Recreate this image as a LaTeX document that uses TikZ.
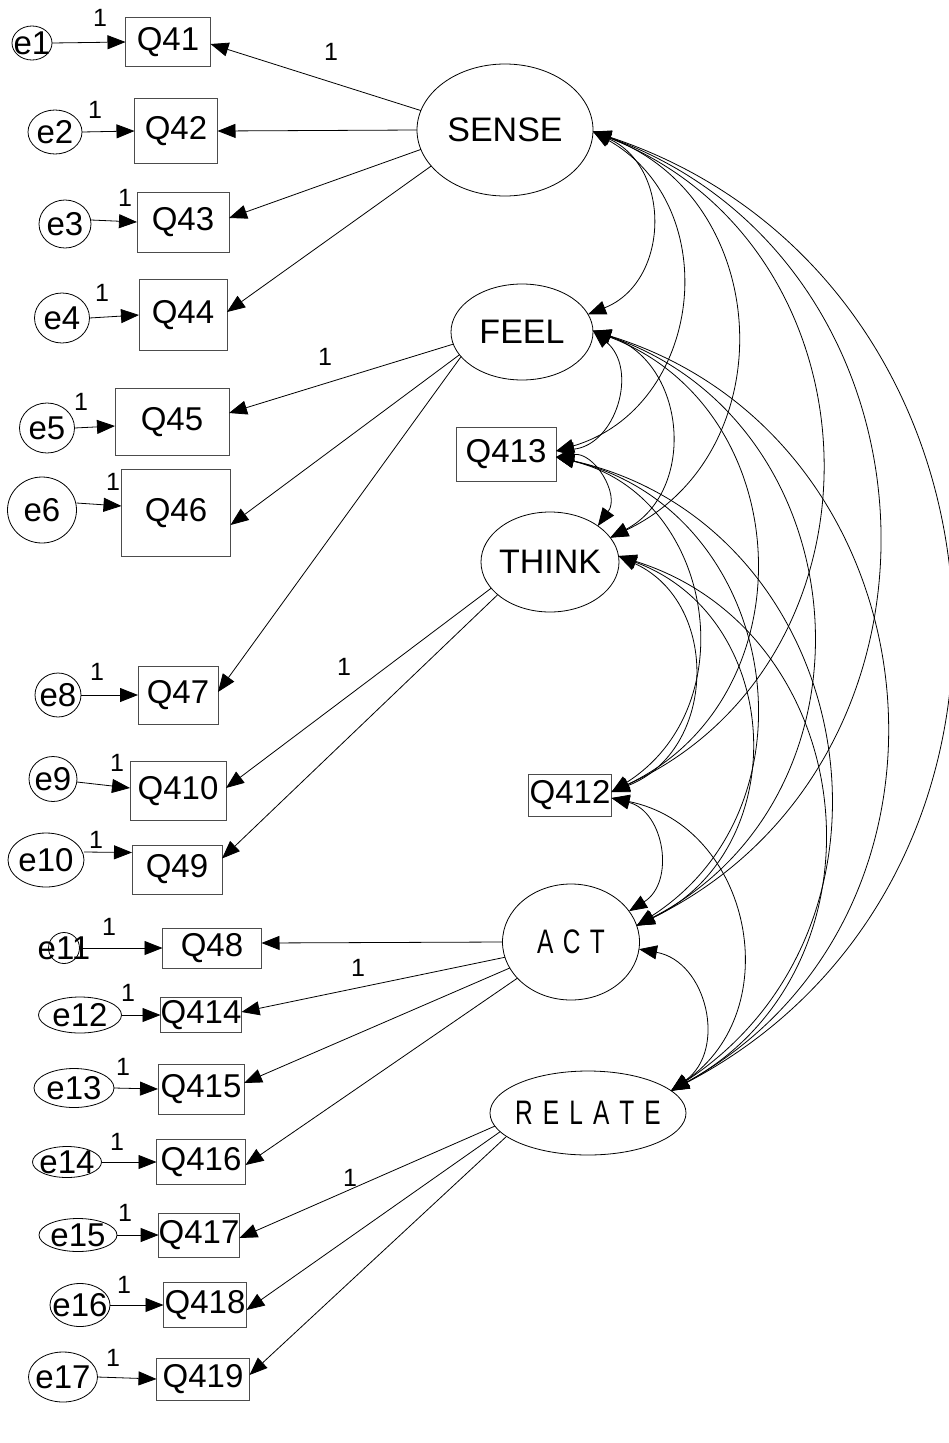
\documentclass[tikz,border=0pt]{standalone}
\usepackage{fontspec}
\setmainfont{Liberation Sans}
\usepackage{graphicx}
\usetikzlibrary{arrows.meta,shapes.geometric}

\newcommand{\mainsize}{\fontsize{33pt}{36pt}\selectfont}
\newcommand{\latsize}{\fontsize{34pt}{36pt}\selectfont}
\newcommand{\onesize}{\fontsize{25pt}{28pt}\selectfont}

\begin{document}
\begin{tikzpicture}[x=1pt,y=-1pt,
  every node/.style={inner sep=0pt,outer sep=0pt},
  obs/.style={draw=black!70,line width=0.8pt,rectangle,font=\mainsize},
  lat/.style={draw,line width=0.8pt,ellipse},
  err/.style={draw,line width=0.8pt,ellipse},
  lbltext/.style={font=\mainsize},
  lattext/.style={font=\latsize},
  fixlbl/.style={font=\onesize},
  tip/.tip={Triangle[length=18pt,width=14pt]},
  load/.style={-tip,line width=0.8pt},
  covarc/.style={tip-tip,line width=0.8pt,bend left=67,looseness=1.22}]

\useasboundingbox (0,0) rectangle (948,1443);

% latent factors
\node[lat,minimum width=176pt,minimum height=132pt,label={[lattext]center:SENSE}] (SENSE) at (505,130) {};
\node[lat,minimum width=142pt,minimum height=96pt,label={[lattext]center:FEEL}] (FEEL) at (522,332) {};
\node[lat,minimum width=138pt,minimum height=100pt,label={[lattext]center:THINK}] (THINK) at (550,562) {};
\node[lat,minimum width=137pt,minimum height=116pt,label={[lattext]center:{\scalebox{0.72}[1]{A\hspace{13pt}C\hspace{13pt}T}}}] (ACT) at (571,942) {};
\node[lat,minimum width=196pt,minimum height=84pt,label={[lattext]center:{\scalebox{0.72}[1]{R\hspace{14pt}E\hspace{14pt}L\hspace{14pt}A\hspace{14pt}T\hspace{14pt}E}}}] (RELATE) at (588,1113) {};

% single indicators on the right
\node[obs,minimum width=100pt,minimum height=54pt] (Q413) at (506,454) {Q413};
\node[obs,minimum width=83pt,minimum height=42pt] (Q412) at (570,795) {Q412};

% indicators on the left
\node[obs,minimum width=85pt,minimum height=49pt] (Q41) at (168,42) {Q41};
\node[obs,minimum width=83pt,minimum height=65pt] (Q42) at (176,131) {Q42};
\node[obs,minimum width=92pt,minimum height=60pt] (Q43) at (183,222) {Q43};
\node[obs,minimum width=88pt,minimum height=71pt] (Q44) at (183,315) {Q44};
\node[obs,minimum width=114pt,minimum height=67pt] (Q45) at (172,422) {Q45};
\node[obs,minimum width=109pt,minimum height=87pt] (Q46) at (176,513) {Q46};
\node[obs,minimum width=80pt,minimum height=58pt] (Q47) at (178,695) {Q47};
\node[obs,minimum width=96pt,minimum height=59pt] (Q410) at (178,791) {Q410};
\node[obs,minimum width=90pt,minimum height=49pt] (Q49) at (177,869.5) {Q49};
\node[obs,minimum width=99pt,minimum height=40pt] (Q48) at (212,948) {Q48};
\node[obs,minimum width=81pt,minimum height=35pt] (Q414) at (201,1015) {Q414};
\node[obs,minimum width=86pt,minimum height=50pt] (Q415) at (201,1089) {Q415};
\node[obs,minimum width=89pt,minimum height=45pt] (Q416) at (201,1162) {Q416};
\node[obs,minimum width=80pt,minimum height=44pt] (Q417) at (199,1235) {Q417};
\node[obs,minimum width=83pt,minimum height=45pt] (Q418) at (205,1305) {Q418};
\node[obs,minimum width=93pt,minimum height=42pt] (Q419) at (203,1379) {Q419};

% error terms
\node[err,minimum width=40pt,minimum height=34pt,label={[lbltext]center:e1}] (e1) at (32,43) {};
\node[err,minimum width=54pt,minimum height=44pt,label={[lbltext]center:e2}] (e2) at (55,132) {};
\node[err,minimum width=52pt,minimum height=48pt,label={[lbltext]center:e3}] (e3) at (65,224) {};
\node[err,minimum width=55pt,minimum height=50pt,label={[lbltext]center:e4}] (e4) at (62,318) {};
\node[err,minimum width=55pt,minimum height=50pt,label={[lbltext]center:e5}] (e5) at (47,428) {};
\node[err,minimum width=69pt,minimum height=66pt,label={[lbltext]center:e6}] (e6) at (42,510) {};
\node[err,minimum width=46pt,minimum height=44pt,label={[lbltext]center:e8}] (e8) at (58,695) {};
\node[err,minimum width=48pt,minimum height=45pt,label={[lbltext]center:e9}] (e9) at (53,779) {};
\node[err,minimum width=76pt,minimum height=54pt,label={[lbltext]center:e10}] (e10) at (46,860) {};
\node[err,minimum width=31pt,minimum height=31pt,label={[lbltext]center:e11}] (e11) at (64,948) {};
\node[err,minimum width=83pt,minimum height=36pt,label={[lbltext]center:e12}] (e12) at (80,1015) {};
\node[err,minimum width=80pt,minimum height=39pt,label={[lbltext]center:e13}] (e13) at (74,1088) {};
\node[err,minimum width=69pt,minimum height=31pt,label={[lbltext]center:e14}] (e14) at (67,1162) {};
\node[err,minimum width=78pt,minimum height=33pt,label={[lbltext]center:e15}] (e15) at (78,1235) {};
\node[err,minimum width=60pt,minimum height=43pt,label={[lbltext]center:e16}] (e16) at (80,1305) {};
\node[err,minimum width=69pt,minimum height=50pt,label={[lbltext]center:e17}] (e17) at (63,1377) {};

% error paths
\draw[load] (e1.east) -- (Q41.west);
\draw[load] (e2.east) -- (Q42.west);
\draw[load] ([yshift=4pt]e3.east) -- (Q43.west);
\draw[load] (e4.east) -- (Q44.west);
\draw[load] (e5.east) -- ([yshift=-4pt]Q45.west);
\draw[load] ([yshift=7pt]e6.east) -- ([yshift=7pt]Q46.west);
\draw[load] (e8.east) -- (Q47.west);
\draw[load] ([yshift=-3pt]e9.east) -- ([yshift=3pt]Q410.west);
\draw[load] ([yshift=8pt]e10.east) -- ([yshift=17pt]Q49.west);
\draw[load] (e11.east) -- (Q48.west);
\draw[load] (e12.east) -- (Q414.west);
\draw[load] (e13.east) -- (Q415.west);
\draw[load] (e14.east) -- (Q416.west);
\draw[load] (e15.east) -- (Q417.west);
\draw[load] (e16.east) -- (Q418.west);
\draw[load] (e17.east) -- (Q419.west);

% factor loadings
\draw[load] (SENSE.167) -- ([yshift=-2pt]Q41.east);
\draw[load] (SENSE.180) -- (Q42.east);
\draw[load] (SENSE.193) -- ([yshift=4pt]Q43.east);
\draw[load] (SENSE.206) -- ([yshift=3pt]Q44.east);
\draw[load] (FEEL.190) -- ([yshift=9pt]Q45.east);
\draw[load] (FEEL.200) -- ([yshift=-12pt]Q46.east);
\draw[load] (FEEL.202) -- ([yshift=3pt]Q47.east);
\draw[load] (THINK.204) -- ([yshift=3pt]Q410.east);
\draw[load] (THINK.212) -- ([yshift=11pt]Q49.east);
\draw[load] (ACT.180) -- ([yshift=5pt]Q48.east);
\draw[load] (ACT.193) -- ([yshift=3pt]Q414.east);
\draw[load] (ACT.203) -- ([yshift=6pt]Q415.east);
\draw[load] (ACT.214) -- ([yshift=-3pt]Q416.east);
\draw[load] (RELATE.188) -- ([yshift=-3pt]Q417.east);
\draw[load] (RELATE.192) -- ([yshift=-5pt]Q418.east);
\draw[load] (RELATE.196) -- ([yshift=4pt]Q419.east);

% fixed parameters
\node[fixlbl] (f1) at (100,18) {1};
\node[fixlbl] (f2) at (95,110) {1};
\node[fixlbl] (f3) at (125,198) {1};
\node[fixlbl] (f4) at (102,293) {1};
\node[fixlbl] (f5) at (81,402) {1};
\node[fixlbl] (f6) at (113,482) {1};
\node[fixlbl] (f8) at (97,672) {1};
\node[fixlbl] (f9) at (117,763) {1};
\node[fixlbl] (f10) at (96,840) {1};
\node[fixlbl] (f11) at (109,927) {1};
\node[fixlbl] (f12) at (128,993) {1};
\node[fixlbl] (f13) at (123,1067) {1};
\node[fixlbl] (f14) at (117,1142) {1};
\node[fixlbl] (f15) at (125,1213) {1};
\node[fixlbl] (f16) at (124,1285) {1};
\node[fixlbl] (f17) at (113,1358) {1};
\node[fixlbl] (lS) at (331,52) {1};
\node[fixlbl] (lF) at (325,357) {1};
\node[fixlbl] (lT) at (344,667) {1};
\node[fixlbl] (lA) at (358,968) {1};
\node[fixlbl] (lR) at (350,1178) {1};

% covariances
\draw[covarc] (SENSE.-1) to (FEEL.15);
\draw[covarc] (SENSE.-1) to ([yshift=3pt]Q413.east);
\draw[covarc] (SENSE.-1) to (THINK.22);
\draw[covarc] (SENSE.-1) to ([yshift=3pt]Q412.east);
\draw[covarc] (SENSE.-1) to (ACT.14);
\draw[covarc] (SENSE.-1) to (RELATE.15);
\draw[covarc] (FEEL.1) to ([yshift=3pt]Q413.east);
\draw[covarc] (FEEL.1) to (THINK.22);
\draw[covarc] (FEEL.1) to ([yshift=3pt]Q412.east);
\draw[covarc] (FEEL.1) to (ACT.14);
\draw[covarc] (FEEL.1) to (RELATE.15);
\draw[covarc] ([yshift=-3pt]Q413.east) to (THINK.37);
\draw[covarc] ([yshift=-3pt]Q413.east) to ([yshift=3pt]Q412.east);
\draw[covarc] ([yshift=-3pt]Q413.east) to (ACT.14);
\draw[covarc] ([yshift=-3pt]Q413.east) to (RELATE.15);
\draw[covarc] (THINK.5) to ([yshift=3pt]Q412.east);
\draw[covarc] (THINK.5) to (ACT.14);
\draw[covarc] (THINK.5) to (RELATE.15);
\draw[covarc] ([yshift=-3pt]Q412.east) to (ACT.28);
\draw[covarc] ([yshift=-3pt]Q412.east) to (RELATE.15);
\draw[covarc] (ACT.-6) to (RELATE.15);

\end{tikzpicture}
\end{document}
